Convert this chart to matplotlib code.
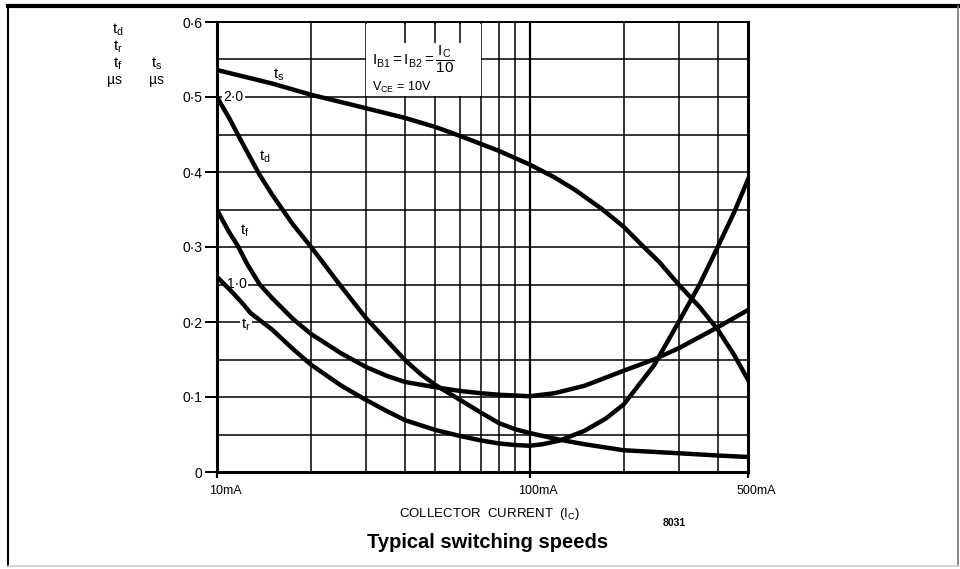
import matplotlib
matplotlib.use('Agg')
import matplotlib.pyplot as plt
import matplotlib.transforms as mtransforms
from matplotlib.patches import Rectangle
import numpy as np

plt.rcParams['font.family'] = ['Liberation Sans', 'DejaVu Sans']
plt.rcParams['mathtext.fontset'] = 'custom'
plt.rcParams['mathtext.rm'] = 'Liberation Sans'
plt.rcParams['mathtext.it'] = 'Liberation Sans'

# values (mA, us on the left scale)
ts_i = [10, 15, 20, 30, 40, 50, 60, 80, 100, 120, 140, 170, 200, 232, 260, 300, 350, 400, 450, 500]
ts_v = [0.536, 0.518, 0.503, 0.485, 0.472, 0.46, 0.448, 0.428, 0.41, 0.393, 0.376, 0.351, 0.327, 0.30,
        0.28, 0.25, 0.22, 0.19, 0.157, 0.123]

td_i = [10, 11, 12, 13.7, 15, 17.5, 20, 25, 30, 35, 40, 45, 50, 60, 70, 80, 90, 100, 125, 150, 200, 300, 400, 500]
td_v = [0.5, 0.47, 0.44, 0.396, 0.37, 0.33, 0.30, 0.247, 0.205, 0.175, 0.149, 0.13, 0.116, 0.096, 0.079,
        0.065, 0.057, 0.052, 0.043, 0.037, 0.029, 0.025, 0.022, 0.02]

tf_i = [10, 10.5, 11, 11.6, 12.5, 13.7, 15, 17.5, 20, 25, 30, 35, 40, 50, 60, 70, 80, 100, 120, 150, 200, 250, 300, 400, 500]
tf_v = [0.35, 0.333, 0.318, 0.303, 0.277, 0.25, 0.232, 0.204, 0.184, 0.158, 0.14, 0.128, 0.12, 0.113, 0.108,
        0.105, 0.103, 0.101, 0.105, 0.115, 0.135, 0.15, 0.165, 0.193, 0.216]

tr_i = [10, 11, 12, 12.8, 15, 17.5, 20, 25, 30, 35, 40, 50, 60, 70, 80, 90, 100, 110, 125, 150, 175, 200, 250,
        300, 350, 400, 450, 500]
tr_v = [0.26, 0.243, 0.226, 0.212, 0.19, 0.164, 0.143, 0.115, 0.096, 0.081, 0.069, 0.056, 0.048, 0.042, 0.038,
        0.036, 0.035, 0.037, 0.042, 0.055, 0.071, 0.09, 0.142, 0.2, 0.25, 0.3, 0.345, 0.39]

y_ticks = [0, 0.1, 0.2, 0.3, 0.4, 0.5, 0.6]
y_labels = ['0', '0·1', '0·2', '0·3', '0·4', '0·5', '0·6']
x_ticks = [10, 100, 500]
x_labels = ['10mA', '100mA', '500mA']
v_grid = [20, 30, 40, 50, 60, 70, 80, 90, 100, 200, 300, 400]
h_grid = np.arange(0.05, 0.6001, 0.05)

fig = plt.figure(figsize=(9.6, 5.69), dpi=100)
ax = fig.add_axes([217/960, 1 - 472/569, (748 - 217)/960, (472 - 22)/569])
ax.set_xscale('log')
ax.set_xlim(10, 500)
ax.set_ylim(0, 0.6)

for h in h_grid:
    ax.axhline(h, color='k', lw=1.1, zorder=1)
for v in v_grid:
    ax.axvline(v, color='k', lw=1.6 if v == 100 else 1.1, zorder=1)

# white box holding the test conditions
ax.add_patch(Rectangle((30, 0.502), 70 - 30, 0.096, facecolor='white', edgecolor='none', zorder=2))
ax.vlines([40, 50, 60], 0.572, 0.6, color='k', lw=1.1, zorder=3)
ax.text(31.3, 0.55, r'$\mathrm{I_{B1} = I_{B2} = \dfrac{I_C}{10}}$', fontsize=11, va='center', zorder=4)
ax.text(31.3, 0.513, r'$\mathrm{V_{CE}}$ = 10V', fontsize=9, va='center', zorder=4)

for xs, ys in [(ts_i, ts_v), (td_i, td_v), (tf_i, tf_v), (tr_i, tr_v)]:
    ax.plot(xs, ys, color='k', lw=3.2, zorder=5, solid_joinstyle='round')

wb = dict(facecolor='white', edgecolor='none', pad=1)
ax.text(15.8, 0.53, r'$\mathrm{t_s}$', fontsize=11, ha='center', va='center', zorder=6)
ax.text(14.2, 0.42, r'$\mathrm{t_d}$', fontsize=11, ha='center', va='center', zorder=6)
ax.text(12.3, 0.322, r'$\mathrm{t_f}$', fontsize=11, ha='center', va='center', zorder=6)
ax.text(12.4, 0.196, r'$\mathrm{t_r}$', fontsize=11, ha='center', va='center', zorder=4, bbox=wb)
ax.text(11.3, 0.5, '2·0', fontsize=10, ha='center', va='center', zorder=4, bbox=wb)
ax.text(11.6, 0.25, '1·0', fontsize=10, ha='center', va='center', zorder=4, bbox=wb)

for s in ['left', 'bottom', 'right']:
    ax.spines[s].set_linewidth(2.2)
ax.spines['top'].set_linewidth(1.4)
ax.spines[:].set_zorder(7)

ax.set_yticks(y_ticks)
ax.set_yticklabels(y_labels, fontsize=10)
ax.set_xticks(x_ticks)
ax.set_xticklabels(x_labels, fontsize=9)
ax.xaxis.set_minor_locator(matplotlib.ticker.NullLocator())
ax.tick_params(axis='y', direction='out', length=8.5, width=1.4, pad=2)
ax.tick_params(axis='x', direction='out', length=4, width=1.6, pad=5)
offset = mtransforms.ScaledTranslation(8/100, 0, fig.dpi_scale_trans)
for lab in ax.get_xticklabels():
    lab.set_transform(lab.get_transform() + offset)

# axis headers
fig.text(118/960, 1 - 30/569, r'$\mathrm{t_d}$', fontsize=11, ha='center', va='center')
fig.text(118/960, 1 - 47/569, r'$\mathrm{t_r}$', fontsize=11, ha='center', va='center')
fig.text(118/960, 1 - 64/569, r'$\mathrm{t_f}$', fontsize=11, ha='center', va='center')
fig.text(115/960, 1 - 80/569, 'µs', fontsize=10, ha='center', va='center')
fig.text(157/960, 1 - 64/569, r'$\mathrm{t_s}$', fontsize=11, ha='center', va='center')
fig.text(156/960, 1 - 80/569, 'µs', fontsize=10, ha='center', va='center')

fig.text(490/960, 1 - 514/569, r'COLLECTOR  CURRENT  ($\mathrm{I_C}$)', fontsize=9.5, ha='center', va='center')
fig.text(674/960, 1 - 523/569, '8031', fontsize=7.5, fontweight='bold', ha='center', va='center')
fig.text(488/960, 1 - 543/569, 'Typical switching speeds', fontsize=14.5, fontweight='bold', ha='center', va='center')

# page frame
fig.add_artist(plt.Line2D([8/960, 958/960], [1 - 6/569, 1 - 6/569], color='k', lw=3, transform=fig.transFigure))
fig.add_artist(plt.Line2D([8/960, 8/960], [1 - 6/569, 1 - 566/569], color='k', lw=1.5, transform=fig.transFigure))
fig.add_artist(plt.Line2D([958/960, 958/960], [1 - 6/569, 1 - 566/569], color='#777777', lw=1.2, transform=fig.transFigure))
fig.add_artist(plt.Line2D([8/960, 958/960], [1 - 566/569, 1 - 566/569], color='#cccccc', lw=1.2, transform=fig.transFigure))

fig.savefig('out.png', dpi=100)
